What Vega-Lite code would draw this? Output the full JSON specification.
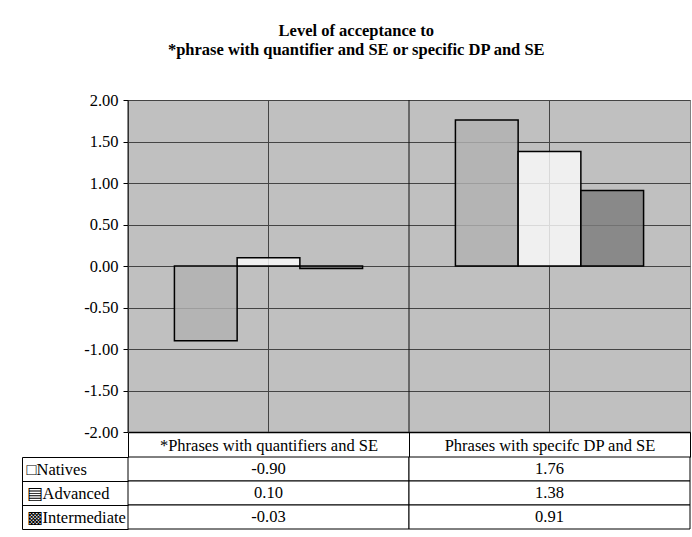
{
  "$schema": "https://vega.github.io/schema/vega-lite/v6.json",
  "background": "white",
  "padding": {"left": 21, "top": 23, "right": 2, "bottom": 8},
  "title": {
    "text": ["Level of acceptance to", "*phrase with quantifier and SE or specific DP and SE"],
    "font": "Liberation Serif",
    "fontSize": 16.5,
    "fontWeight": "bold",
    "color": "black",
    "anchor": "middle",
    "lineHeight": 19,
    "offset": 33
  },
  "datasets": {
    "scores": [
      {"category": "*Phrases with quantifiers and SE", "series": "Natives", "value": -0.90},
      {"category": "*Phrases with quantifiers and SE", "series": "Advanced", "value": 0.10},
      {"category": "*Phrases with quantifiers and SE", "series": "Intermediate", "value": -0.03},
      {"category": "Phrases with specifc DP and SE", "series": "Natives", "value": 1.76},
      {"category": "Phrases with specifc DP and SE", "series": "Advanced", "value": 1.38},
      {"category": "Phrases with specifc DP and SE", "series": "Intermediate", "value": 0.91}
    ],
    "categories": [
      {"category": "*Phrases with quantifiers and SE"},
      {"category": "Phrases with specifc DP and SE"}
    ]
  },
  "bounds": "flush",
  "spacing": 25,
  "vconcat": [
    {
      "width": 562,
      "height": 332,
      "view": {"fill": "#C0C0C0", "stroke": "#808080", "strokeWidth": 1},
      "encoding": {
        "x": {
          "field": "category",
          "type": "nominal",
          "sort": ["*Phrases with quantifiers and SE", "Phrases with specifc DP and SE"],
          "scale": {"paddingInner": 0, "paddingOuter": 0},
          "axis": {
            "title": null,
            "labelAngle": 0,
            "tickBand": "extent",
            "tickSize": 25,
            "tickColor": "black",
            "domainColor": "black",
            "domainWidth": 1.5,
            "labelPadding": -12,
            "labelBaseline": "middle",
            "labelFontSize": 16.5,
            "labelLimit": 0,
            "grid": false
          }
        }
      },
      "layer": [
        {
          "data": {"name": "categories"},
          "mark": {"type": "rule", "color": "#444", "strokeWidth": 1},
          "encoding": {"x": {"field": "category", "type": "nominal", "bandPosition": 0.5, "sort": ["*Phrases with quantifiers and SE", "Phrases with specifc DP and SE"]}}
        },
        {
          "data": {"name": "categories"},
          "mark": {"type": "rule", "color": "#111", "strokeWidth": 1},
          "encoding": {"x": {"field": "category", "type": "nominal", "bandPosition": 0, "sort": ["*Phrases with quantifiers and SE", "Phrases with specifc DP and SE"]}}
        },
        {
          "data": {"name": "scores"},
          "mark": {"type": "bar", "stroke": "black", "strokeWidth": 1.5, "fillOpacity": 0.82},
          "encoding": {
            "xOffset": {
              "field": "series",
              "type": "nominal",
              "sort": ["Natives", "Advanced", "Intermediate"],
              "scale": {"paddingInner": 0, "paddingOuter": 0.74}
            },
            "y": {
              "field": "value",
              "type": "quantitative",
              "scale": {"domain": [-2, 2], "nice": false, "zero": false},
              "axis": {
                "title": null,
                "values": [-2, -1.5, -1, -0.5, 0, 0.5, 1, 1.5, 2],
                "format": ".2f",
                "tickSize": 5,
                "tickColor": "black",
                "domainColor": "#555",
                "grid": true,
                "gridColor": "#444",
                "gridOpacity": 1,
                "labelPadding": 5
              }
            },
            "color": {
              "field": "series",
              "type": "nominal",
              "sort": ["Natives", "Advanced", "Intermediate"],
              "scale": {"domain": ["Natives", "Advanced", "Intermediate"], "range": ["#B1B1B1", "#FAFAFA", "#7D7D7D"]},
              "legend": null
            }
          }
        }
      ]
    },
    {
      "width": 562,
      "height": 72,
      "view": {"stroke": null},
      "data": {"name": "scores"},
      "encoding": {
        "x": {
          "field": "category",
          "type": "nominal",
          "sort": ["*Phrases with quantifiers and SE", "Phrases with specifc DP and SE"],
          "scale": {"paddingInner": 0, "paddingOuter": 0},
          "axis": null
        },
        "y": {
          "field": "series",
          "type": "nominal",
          "sort": ["Natives", "Advanced", "Intermediate"],
          "scale": {"paddingInner": 0, "paddingOuter": 0},
          "axis": {
            "title": null,
            "offset": 106,
            "domain": true,
            "domainColor": "black",
            "ticks": true,
            "tickBand": "extent",
            "tickSize": -106,
            "tickColor": "black",
            "labelAlign": "left",
            "labelBaseline": "middle",
            "labelPadding": 102,
            "labelFontSize": 16.5,
            "labelExpr": "datum.label == '' || datum.label == null ? '' : (datum.label == 'Natives' ? '\u25a1' : datum.label == 'Advanced' ? '\u25a4' : '\u25a9') + datum.label",
            "grid": false
          }
        }
      },
      "layer": [
        {"mark": {"type": "rect", "fill": "white", "stroke": "black", "strokeWidth": 1}},
        {
          "mark": {"type": "text", "font": "Liberation Serif", "fontSize": 16.5, "color": "black"},
          "encoding": {"text": {"field": "value", "type": "quantitative", "format": ".2f"}}
        }
      ]
    }
  ],
  "config": {
    "locale": {"number": {"decimal": ".", "thousands": ",", "grouping": [3], "currency": ["$", ""], "minus": "-"}},
    "font": "Liberation Serif",
    "axis": {"labelFont": "Liberation Serif", "labelFontSize": 16.5, "labelColor": "black", "titleFont": "Liberation Serif"}
  }
}
